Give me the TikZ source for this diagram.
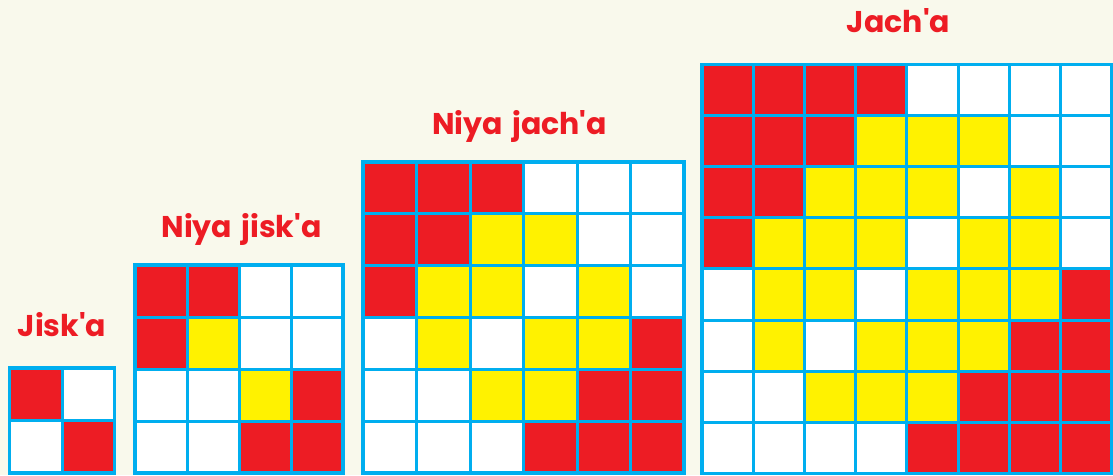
\documentclass[tikz,border=0pt]{standalone}
\usepackage{fontspec}
\setmainfont{Poppins}[Ligatures=TeXOff]
\definecolor{bgc}{HTML}{F9F9EC}
\definecolor{myred}{HTML}{ED1C24}
\definecolor{myyellow}{HTML}{FFF200}
\definecolor{mycyan}{HTML}{00AEEF}
\tikzset{
  cellR/.style={fill=myred},
  cellY/.style={fill=myyellow},
  cellW/.style={fill=white},
  gline/.style={draw=mycyan,line width=3pt},
  gborder/.style={draw=mycyan,line width=3.5pt},
  title/.style={text=myred,font=\fontsize{30}{35}\selectfont\bfseries,anchor=base,inner sep=0pt}
}
\newcommand\mygridblock[6]{%
  \foreach \rowlist [count=\r] in {#6} {
    \foreach \cc [count=\k] in \rowlist {
      \fill[cell\cc] ({#1+(\k-1)*#3},{#2+(\r-1)*#4}) rectangle ++(#3,#4);
    }
  }
  \foreach \i in {1,...,#5} {
    \draw[gline] ({#1+\i*#3},#2) -- ++(0,{#5*#4});
    \draw[gline] (#1,{#2+\i*#4}) -- ++({#5*#3},0);
  }
  \draw[gborder] (#1,#2) rectangle ++({#5*#3},{#5*#4});
}
\begin{document}
\begin{tikzpicture}[x=1pt,y=-1pt]
\fill[bgc] (0,0) rectangle (1113,475);
\useasboundingbox (0,0) rectangle (1113,475);
% titles
\node[title] (t1) at (62,336) {Jisk'a};
\node[title] (t2) at (241.5,237) {Niya\hspace{3pt} jisk'a};
\node[title] (t3) at (519.5,134) {Niya\hspace{3pt} jach'a};
\node[title] (t4) at (898.5,32) {Jach'a};
% grids
\mygridblock{9.5}{368}{52.5}{52.5}{2}{{R,W},{W,R}}
\mygridblock{135}{265}{52}{52}{4}{{R,R,W,W},{R,Y,W,W},{W,W,Y,R},{W,W,R,R}}
\mygridblock{363}{162}{53.5}{51.8}{6}{{R,R,R,W,W,W},{R,R,Y,Y,W,W},{R,Y,Y,W,Y,W},{W,Y,W,Y,Y,R},{W,W,Y,Y,R,R},{W,W,W,R,R,R}}
\mygridblock{702}{64.5}{51.2}{51.1}{8}{{R,R,R,R,W,W,W,W},{R,R,R,Y,Y,Y,W,W},{R,R,Y,Y,Y,W,Y,W},{R,Y,Y,Y,W,Y,Y,W},{W,Y,Y,W,Y,Y,Y,R},{W,Y,W,Y,Y,Y,R,R},{W,W,Y,Y,Y,R,R,R},{W,W,W,W,R,R,R,R}}
\end{tikzpicture}
\end{document}
